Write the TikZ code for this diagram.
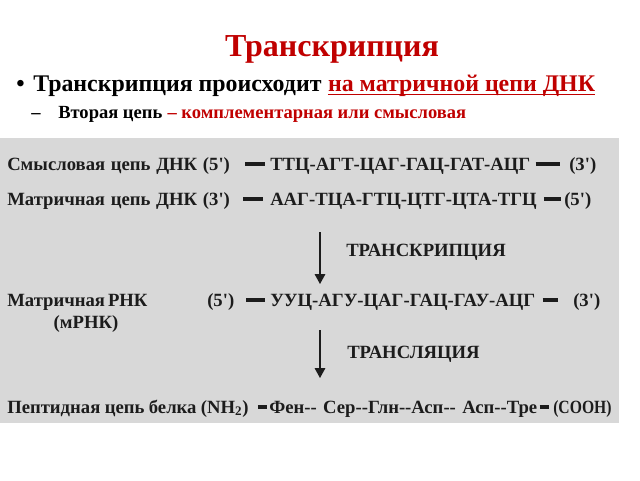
\documentclass[tikz,border=0pt]{standalone}
\usepackage{fontspec}
\setmainfont{Liberation Serif}
\usetikzlibrary{arrows.meta}
\definecolor{darkred}{RGB}{192,0,0}
\definecolor{boxgray}{RGB}{216,216,216}
\definecolor{ink}{RGB}{28,28,28}
\newcommand{\prm}{\textquotesingle}

\begin{document}
\begin{tikzpicture}
        [x=0.75pt, y=-0.75pt,
        head/.style={anchor=base west, inner sep=0pt, font=\bfseries\fontsize{17.9}{20}\selectfont},
        sub/.style={anchor=base west, inner sep=0pt, font=\bfseries\fontsize{13.9}{15}\selectfont},
        row/.style={anchor=base west, inner sep=0pt, text=ink, font=\bfseries\fontsize{14}{16}\selectfont},
        bar/.style={line width=3pt, ink},
        flow/.style={line width=0.9pt, ink, -{Triangle[length=7.5pt, width=8pt]}}]
        \useasboundingbox (0,0) rectangle (640,480);
        \fill[boxgray] (0,138) rectangle (619,423);

        % heading
        \node[anchor=base, inner sep=0pt, text=darkred, font=\bfseries\fontsize{24}{28}\selectfont] (title) at (332,56) {Транскрипция};
        \node[head] (dot) at (16,91) {\textbullet};
        \node[head] (b1) at (33,91) {Транскрипция происходит};
        \node[head, text=darkred] (b1red) at ([xshift=4.5pt]b1.base east) {на матричной цепи ДНК};
        \draw[darkred, line width=1.3pt] ([yshift=-2.6pt]b1red.base west) -- ([yshift=-2.6pt]b1red.base east);
        \node[sub] (dash) at (31,118) {--};
        \node[sub] (b2) at (58,118) {Вторая цепь};
        \node[sub, text=darkred] (b2red) at ([xshift=3.5pt]b2.base east) {-- комплементарная или смысловая};

        % sense strand
        \node[row] (sl) at (7,170) {\makebox[167pt][s]{Смысловая цепь ДНК (5\prm)}};
        \node[row] (ss) at (270,170) {ТТЦ-АГТ-ЦАГ-ГАЦ-ГАТ-АЦГ};
        \node[row] (sr) at (569,170) {(3\prm)};
        \draw[bar] ([shift={(15,-6)}]sl.base east) -- ([shift={(-5,-6)}]ss.base west);
        \draw[bar] ([shift={(5,-6)}]ss.base east) -- ([shift={(-9,-6)}]sr.base west);

        % template strand
        \node[row] (ml) at (7,205) {\makebox[167pt][s]{Матричная цепь ДНК (3\prm)}};
        \node[row] (ms) at (270,205) {ААГ-ТЦА-ГТЦ-ЦТГ-ЦТА-ТГЦ};
        \node[row] (mr) at (564,205) {(5\prm)};
        \draw[bar] ([shift={(13,-6)}]ml.base east) -- ([shift={(-7,-6)}]ms.base west);
        \draw[bar] ([shift={(7,-6)}]ms.base east) -- ([shift={(-3,-6)}]mr.base west);

        \coordinate (t1) at (320,232);
        \coordinate (t2) at (320,284);
        \draw[flow] (t1) -- (t2);
        \node[row] (tc) at (346,256) {ТРАНСКРИПЦИЯ};

        % mRNA
        \node[row] (rl) at (7,306) {\makebox[105pt][s]{Матричная РНК}};
        \node[row, anchor=base] (rl2) at (86,328) {(мРНК)};
        \node[row] (r5) at (207,306) {(5\prm)};
        \node[row] (rs) at (270,306) {УУЦ-АГУ-ЦАГ-ГАЦ-ГАУ-АЦГ};
        \node[row] (r3) at (573,306) {(3\prm)};
        \draw[bar] ([shift={(12,-6)}]r5.base east) -- ([shift={(-5,-6)}]rs.base west);
        \draw[bar] ([shift={(7,-6)}]rs.base east) -- ([shift={(-15,-6)}]r3.base west);

        \coordinate (t3) at (320,330);
        \coordinate (t4) at (320,378);
        \draw[flow] (t3) -- (t4);
        \node[row] (tl) at (347,358) {ТРАНСЛЯЦИЯ};

        % protein
        \node[row] (pl) at (7,413) {\makebox[181pt][s]{Пептидная цепь белка (NH\textsubscript{2})}};
        \node[row] (ps) at (269,413) {\makebox[201pt][s]{Фен-{}- Сер-{}-Глн-{}-Асп-{}- Асп-{}-Тре}};
        \node[row] (pr) at (553,413) {\scalebox{0.84}[1]{(СООН)}};
        \draw[bar] ([shift={(9,-6)}]pl.base east) -- ([shift={(-2,-6)}]ps.base west);
        \draw[bar] ([shift={(2,-6)}]ps.base east) -- ([shift={(-4,-6)}]pr.base west);

\end{tikzpicture}
\end{document}
